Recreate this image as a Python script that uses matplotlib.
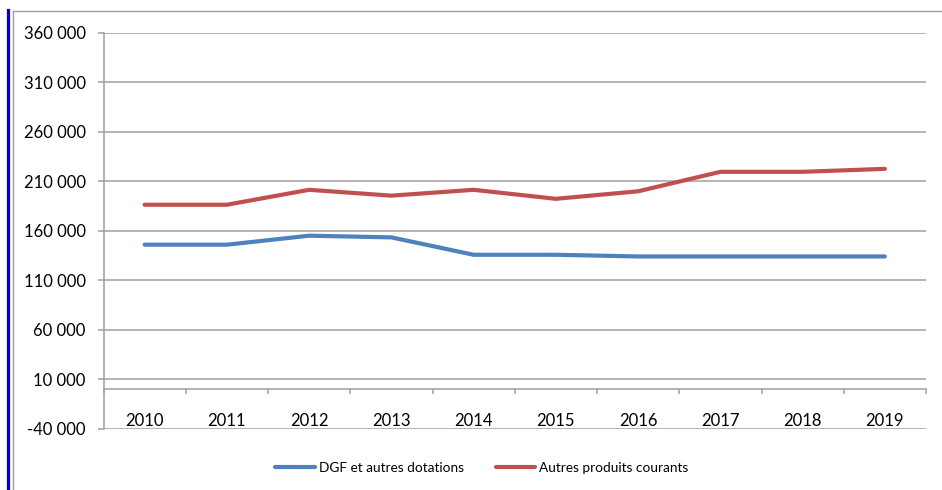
import matplotlib
matplotlib.use("Agg")
import matplotlib.pyplot as plt
from matplotlib.ticker import FuncFormatter, FixedLocator
from matplotlib.lines import Line2D
import numpy as np

plt.rcParams['font.family'] = ['Lato', 'DejaVu Sans']

years = ["2010", "2011", "2012", "2013", "2014", "2015", "2016", "2017", "2018", "2019"]
dgf = [145900, 145900, 155000, 153300, 135700, 135700, 134000, 134000, 134000, 134000]
autres = [186300, 186300, 201400, 195500, 201400, 192300, 199900, 219600, 219600, 222600]
series_names = ["DGF et autres dotations", "Autres produits courants"]
yticks = list(range(-40000, 360001, 50000))

blue = "#4F81BD"
red = "#C0504D"
grid_col = "#A0A0A0"

fig = plt.figure(figsize=(9.42, 4.90), dpi=100)
ax = fig.add_axes([103.5/942, 1-428.5/490, (926-103.5)/942, (428.5-33)/490])

x = np.arange(len(years))
l1, = ax.plot(x, dgf, color=blue, lw=3.0, solid_capstyle='round', solid_joinstyle='round')
l2, = ax.plot(x, autres, color=red, lw=3.0, solid_capstyle='round', solid_joinstyle='round')

ax.set_xlim(-0.5, len(years) - 0.5)
ax.set_ylim(-40000, 360000)
ax.set_yticks(yticks)
ax.yaxis.set_major_formatter(FuncFormatter(lambda v, p: f"{v:,.0f}".replace(",", " ")))
ax.yaxis.grid(True, color=grid_col, lw=1.1)
ax.set_axisbelow(True)

for s in ["top", "right"]:
    ax.spines[s].set_visible(False)
ax.spines["left"].set_color(grid_col)
ax.spines["left"].set_linewidth(1.1)
ax.spines["bottom"].set_position(("data", 0))
ax.spines["bottom"].set_color(grid_col)
ax.spines["bottom"].set_linewidth(1.1)

ax.tick_params(axis="y", length=4.3, width=1.1, color=grid_col, pad=8.5, labelsize=12, labelcolor="black")
ax.set_xticks(x)
ax.set_xticklabels(years)
ax.xaxis.set_minor_locator(FixedLocator(np.arange(-0.5, len(years), 1.0)))
ax.tick_params(axis="x", which="major", length=0, pad=17, labelsize=12, labelcolor="black")
ax.tick_params(axis="x", which="minor", length=3.5, width=1.1, color=grid_col)

# frame decorations
fig.add_artist(Line2D([7.5/942, 7.5/942], [0, 1-10/490], color="#0000CC", lw=2.3))
fig.add_artist(Line2D([12.5/942, 12.5/942], [0, 1-11/490], color=grid_col, lw=1.0))
fig.add_artist(Line2D([12.5/942, 1], [1-11/490, 1-11/490], color=grid_col, lw=1.0))

fig.legend([l1, l2], series_names, loc="center", bbox_to_anchor=(482/942, 1-468/490),
           ncol=2, frameon=False, fontsize=9.8, handlelength=2.9, handletextpad=0.3,
           columnspacing=2.35)

fig.savefig("out.png", dpi=100)
